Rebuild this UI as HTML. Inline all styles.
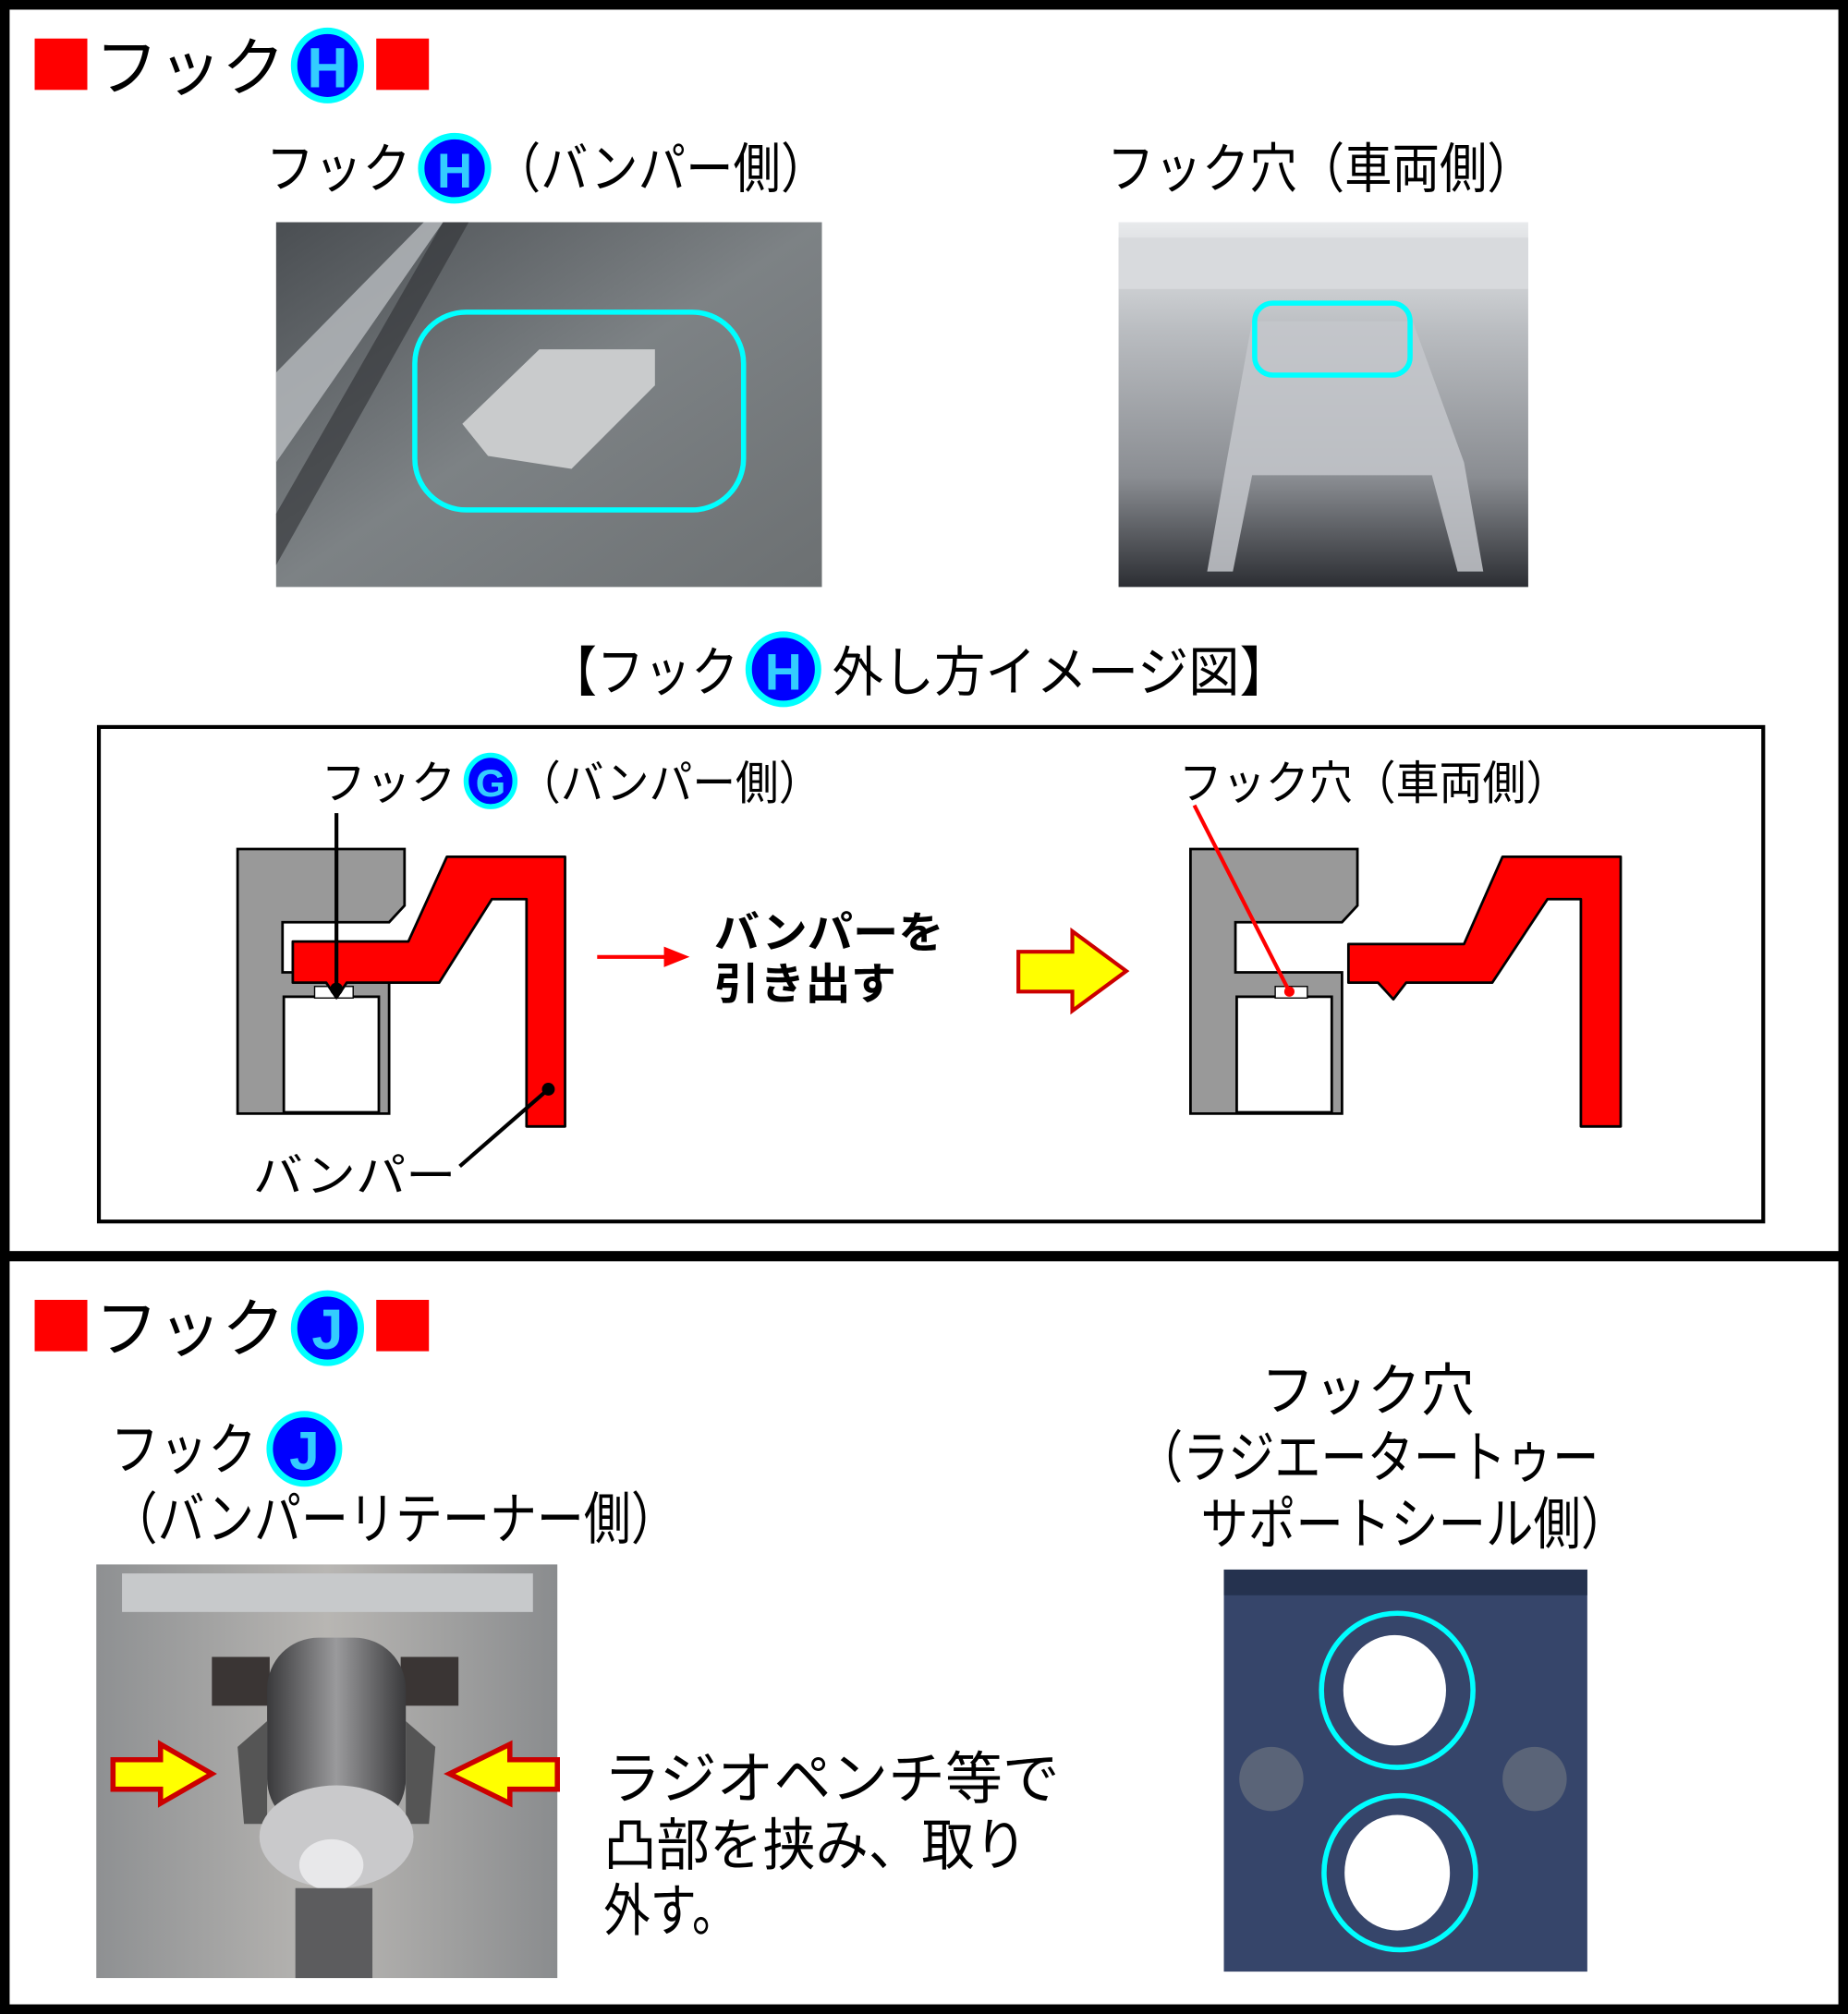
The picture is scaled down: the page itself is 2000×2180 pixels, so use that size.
<!DOCTYPE html>
<html><head><meta charset="utf-8"><style>
html,body{margin:0;padding:0;background:#fff;}
svg{display:block;}
text{font-family:"Liberation Sans","Noto Sans CJK JP",sans-serif;}
</style></head><body>
<svg width="2000" height="2180" viewBox="0 0 1439 1568" preserveAspectRatio="none" xmlns="http://www.w3.org/2000/svg" fill="#000">
<defs>
<linearGradient id="p1" x1="0" y1="0" x2="1" y2="1"><stop offset="0" stop-color="#4a4e52"/><stop offset="0.5" stop-color="#7d8285"/><stop offset="1" stop-color="#6c7072"/></linearGradient>
<linearGradient id="p2" x1="0" y1="0" x2="0" y2="1"><stop offset="0" stop-color="#e8eaec"/><stop offset="0.3" stop-color="#b9bcc0"/><stop offset="0.7" stop-color="#8a8d92"/><stop offset="1" stop-color="#2c2e33"/></linearGradient>
<linearGradient id="p3" x1="0" y1="0" x2="1" y2="0"><stop offset="0" stop-color="#8e9092"/><stop offset="0.5" stop-color="#b8b6b3"/><stop offset="1" stop-color="#8a8c8e"/></linearGradient>
<linearGradient id="cyl" x1="0" y1="0" x2="1" y2="0"><stop offset="0" stop-color="#3a3a3c"/><stop offset="0.5" stop-color="#9a9a9c"/><stop offset="1" stop-color="#3a3a3c"/></linearGradient>
</defs>
<rect x="0" y="0" width="1439" height="1568" fill="#fff"/>
<rect x="3.5" y="3.5" width="1432" height="1561" fill="none" stroke="#000" stroke-width="8"/>
<rect x="0" y="974" width="1439" height="8" fill="#000"/>

<!-- Section H title -->
<rect x="27" y="30" width="41" height="40" fill="#f00"/>
<text x="74" y="70" font-size="50" textLength="148" lengthAdjust="spacingAndGlyphs">フック</text>
<ellipse cx="255" cy="51" rx="26" ry="27" fill="#00f" stroke="#0ff" stroke-width="5"/>
<text x="255" y="68" font-size="44" text-anchor="middle" font-weight="bold" fill="#3cf">H</text>
<rect x="293" y="30" width="41" height="40" fill="#f00"/>

<text x="207" y="146" font-size="42" textLength="113" lengthAdjust="spacingAndGlyphs">フック</text>
<ellipse cx="354" cy="131" rx="26" ry="25" fill="#00f" stroke="#0ff" stroke-width="5"/>
<text x="354" y="146" font-size="38" text-anchor="middle" font-weight="bold" fill="#3cf">H</text>
<text x="384" y="146" font-size="42" textLength="261" lengthAdjust="spacingAndGlyphs">（バンパー側）</text>
<text x="862" y="146" font-size="42" textLength="333" lengthAdjust="spacingAndGlyphs">フック穴（車両側）</text>

<!-- photo1 -->
<rect x="215" y="173" width="425" height="284" fill="url(#p1)"/>
<polygon points="215,290 330,173 345,173 215,360" fill="#b8bcbf" opacity="0.8"/>
<polygon points="215,400 345,173 365,173 215,440" fill="#2e3134" opacity="0.6"/>
<polygon points="360,330 420,272 510,272 510,300 445,365 380,355" fill="#c9cbcc"/>
<rect x="323" y="243" width="256" height="154" rx="40" fill="none" stroke="#0ff" stroke-width="4"/>

<!-- photo2 -->
<rect x="871" y="173" width="319" height="284" fill="url(#p2)"/>
<rect x="871" y="185" width="319" height="40" fill="#d8dadd"/>
<polygon points="975,250 1100,250 1140,360 1155,445 1135,445 1115,370 975,370 960,445 940,445 955,360" fill="#c4c7cb" opacity="0.85"/>
<rect x="977" y="236" width="121" height="56" rx="14" fill="none" stroke="#0ff" stroke-width="4"/>

<!-- diagram title -->
<text x="428" y="538" font-size="42" textLength="147" lengthAdjust="spacingAndGlyphs">【フック</text>
<ellipse cx="610" cy="521" rx="27" ry="27" fill="#00f" stroke="#0ff" stroke-width="5"/>
<text x="610" y="537" font-size="40" text-anchor="middle" font-weight="bold" fill="#3cf">H</text>
<text x="648" y="538" font-size="42" textLength="357" lengthAdjust="spacingAndGlyphs">外し方イメージ図】</text>

<!-- diagram box -->
<rect x="77" y="566" width="1296" height="385" fill="none" stroke="#000" stroke-width="3"/>
<text x="250" y="622" font-size="36" textLength="105" lengthAdjust="spacingAndGlyphs">フック</text>
<ellipse cx="382" cy="608" rx="19" ry="20" fill="#00f" stroke="#0ff" stroke-width="4"/>
<text x="382" y="620" font-size="30" text-anchor="middle" font-weight="bold" fill="#3cf">G</text>
<text x="403" y="622" font-size="36" textLength="237" lengthAdjust="spacingAndGlyphs">（バンパー側）</text>
<text x="918" y="622" font-size="36" textLength="304" lengthAdjust="spacingAndGlyphs">フック穴（車両側）</text>

<!-- left gray -->
<polygon points="185,661 315,661 315,705 303,718 220,718 220,757 303,757 303,867 185,867" fill="#999" stroke="#000" stroke-width="2"/>
<rect x="221" y="776" width="74" height="90" fill="#fff" stroke="#000" stroke-width="2"/>
<rect x="245" y="768" width="30" height="9" fill="#fff" stroke="#000" stroke-width="1"/>
<polygon points="228,733 318,733 348,667 440,667 440,877 410,877 410,700 383,700 342,765 270,765 262,777 254,765 228,765" fill="#f00" stroke="#000" stroke-width="2" stroke-linejoin="round"/>
<line x1="262" y1="633" x2="262" y2="770" stroke="#000" stroke-width="3"/>
<circle cx="262" cy="770" r="5" fill="#000"/>
<circle cx="427" cy="848" r="5" fill="#000"/>
<line x1="427" y1="848" x2="358" y2="908" stroke="#000" stroke-width="3"/>
<text x="197" y="928" font-size="36" textLength="158" lengthAdjust="spacingAndGlyphs">バンパー</text>

<line x1="465" y1="745" x2="520" y2="745" stroke="#f00" stroke-width="3"/>
<polygon points="517,737 537,745 517,753" fill="#f00"/>
<text x="556" y="738" font-size="34" font-weight="bold" textLength="179" lengthAdjust="spacingAndGlyphs">バンパーを</text>
<text x="556" y="778" font-size="34" font-weight="bold" textLength="142" lengthAdjust="spacingAndGlyphs">引き出す</text>

<polygon points="793,741 835,741 835,725 877,756 835,787 835,772 793,772" fill="#ff0" stroke="#c00" stroke-width="3"/>

<!-- right gray -->
<polygon points="927,661 1057,661 1057,705 1045,718 962,718 962,757 1045,757 1045,867 927,867" fill="#999" stroke="#000" stroke-width="2"/>
<rect x="963" y="776" width="74" height="90" fill="#fff" stroke="#000" stroke-width="2"/>
<rect x="993" y="768" width="25" height="9" fill="#fff" stroke="#000" stroke-width="1"/>
<polygon points="1050,735 1140,735 1170,667 1262,667 1262,877 1231,877 1231,700 1205,700 1162,765 1095,765 1085,778 1073,765 1050,765" fill="#f00" stroke="#000" stroke-width="2" stroke-linejoin="round"/>
<line x1="930" y1="627" x2="1004" y2="772" stroke="#f00" stroke-width="3"/>
<circle cx="1004" cy="772" r="4" fill="#f00"/>

<!-- Section J title -->
<rect x="27" y="1012" width="41" height="40" fill="#f00"/>
<text x="74" y="1052" font-size="50" textLength="148" lengthAdjust="spacingAndGlyphs">フック</text>
<ellipse cx="255" cy="1034" rx="26" ry="27" fill="#00f" stroke="#0ff" stroke-width="5"/>
<text x="255" y="1050" font-size="44" text-anchor="middle" font-weight="bold" fill="#3cf">J</text>
<rect x="293" y="1012" width="41" height="40" fill="#f00"/>

<text x="86" y="1144" font-size="44" textLength="114" lengthAdjust="spacingAndGlyphs">フック</text>
<ellipse cx="237" cy="1128" rx="27" ry="27" fill="#00f" stroke="#0ff" stroke-width="5"/>
<text x="237" y="1144" font-size="42" text-anchor="middle" font-weight="bold" fill="#3cf">J</text>
<text x="86" y="1198" font-size="44" textLength="442" lengthAdjust="spacingAndGlyphs">（バンパーリテーナー側）</text>

<!-- photo3 -->
<rect x="75" y="1218" width="359" height="322" fill="url(#p3)"/>
<rect x="95" y="1225" width="320" height="30" fill="#c7c9cb"/>
<rect x="165" y="1290" width="45" height="38" fill="#3a3534"/>
<rect x="312" y="1290" width="45" height="38" fill="#3a3534"/>
<rect x="208" y="1275" width="108" height="150" rx="40" fill="url(#cyl)"/>
<polygon points="185,1360 208,1340 208,1420 190,1420" fill="#555"/>
<polygon points="339,1360 316,1340 316,1420 334,1420" fill="#555"/>
<ellipse cx="262" cy="1430" rx="60" ry="40" fill="#c9c9cb"/>
<ellipse cx="258" cy="1452" rx="25" ry="20" fill="#e8e8ea"/>
<rect x="230" y="1470" width="60" height="70" fill="#5c5c5e"/>
<polygon points="88,1370 125,1370 125,1358 165,1381 125,1404 125,1393 88,1393" fill="#ff0" stroke="#c00" stroke-width="4"/>
<polygon points="434,1370 397,1370 397,1358 350,1381 397,1404 397,1393 434,1393" fill="#ff0" stroke="#c00" stroke-width="4"/>

<text x="470" y="1400" font-size="44" textLength="355" lengthAdjust="spacingAndGlyphs">ラジオペンチ等で</text>
<text x="470" y="1452" font-size="44" textLength="330" lengthAdjust="spacingAndGlyphs">凸部を挟み、取り</text>
<text x="470" y="1503" font-size="44" textLength="105" lengthAdjust="spacingAndGlyphs">外す。</text>

<text x="982" y="1098" font-size="44" textLength="166" lengthAdjust="spacingAndGlyphs">フック穴</text>
<text x="885" y="1150" font-size="44" textLength="360" lengthAdjust="spacingAndGlyphs">（ラジエータートゥー</text>
<text x="935" y="1202" font-size="44" textLength="333" lengthAdjust="spacingAndGlyphs">サポートシール側）</text>

<!-- photo4 -->
<rect x="953" y="1222" width="283" height="313" fill="#36456a"/>
<rect x="953" y="1222" width="283" height="20" fill="#25324f"/>
<ellipse cx="990" cy="1385" rx="25" ry="25" fill="#5a6478"/>
<ellipse cx="1195" cy="1385" rx="25" ry="25" fill="#5a6478"/>
<ellipse cx="1086" cy="1316" rx="40" ry="43" fill="#fff"/>
<ellipse cx="1088" cy="1458" rx="41" ry="45" fill="#fff"/>
<ellipse cx="1088" cy="1316" rx="59" ry="60" fill="none" stroke="#0ff" stroke-width="4"/>
<ellipse cx="1090" cy="1458" rx="59" ry="60" fill="none" stroke="#0ff" stroke-width="4"/>
</svg>
</body></html>
